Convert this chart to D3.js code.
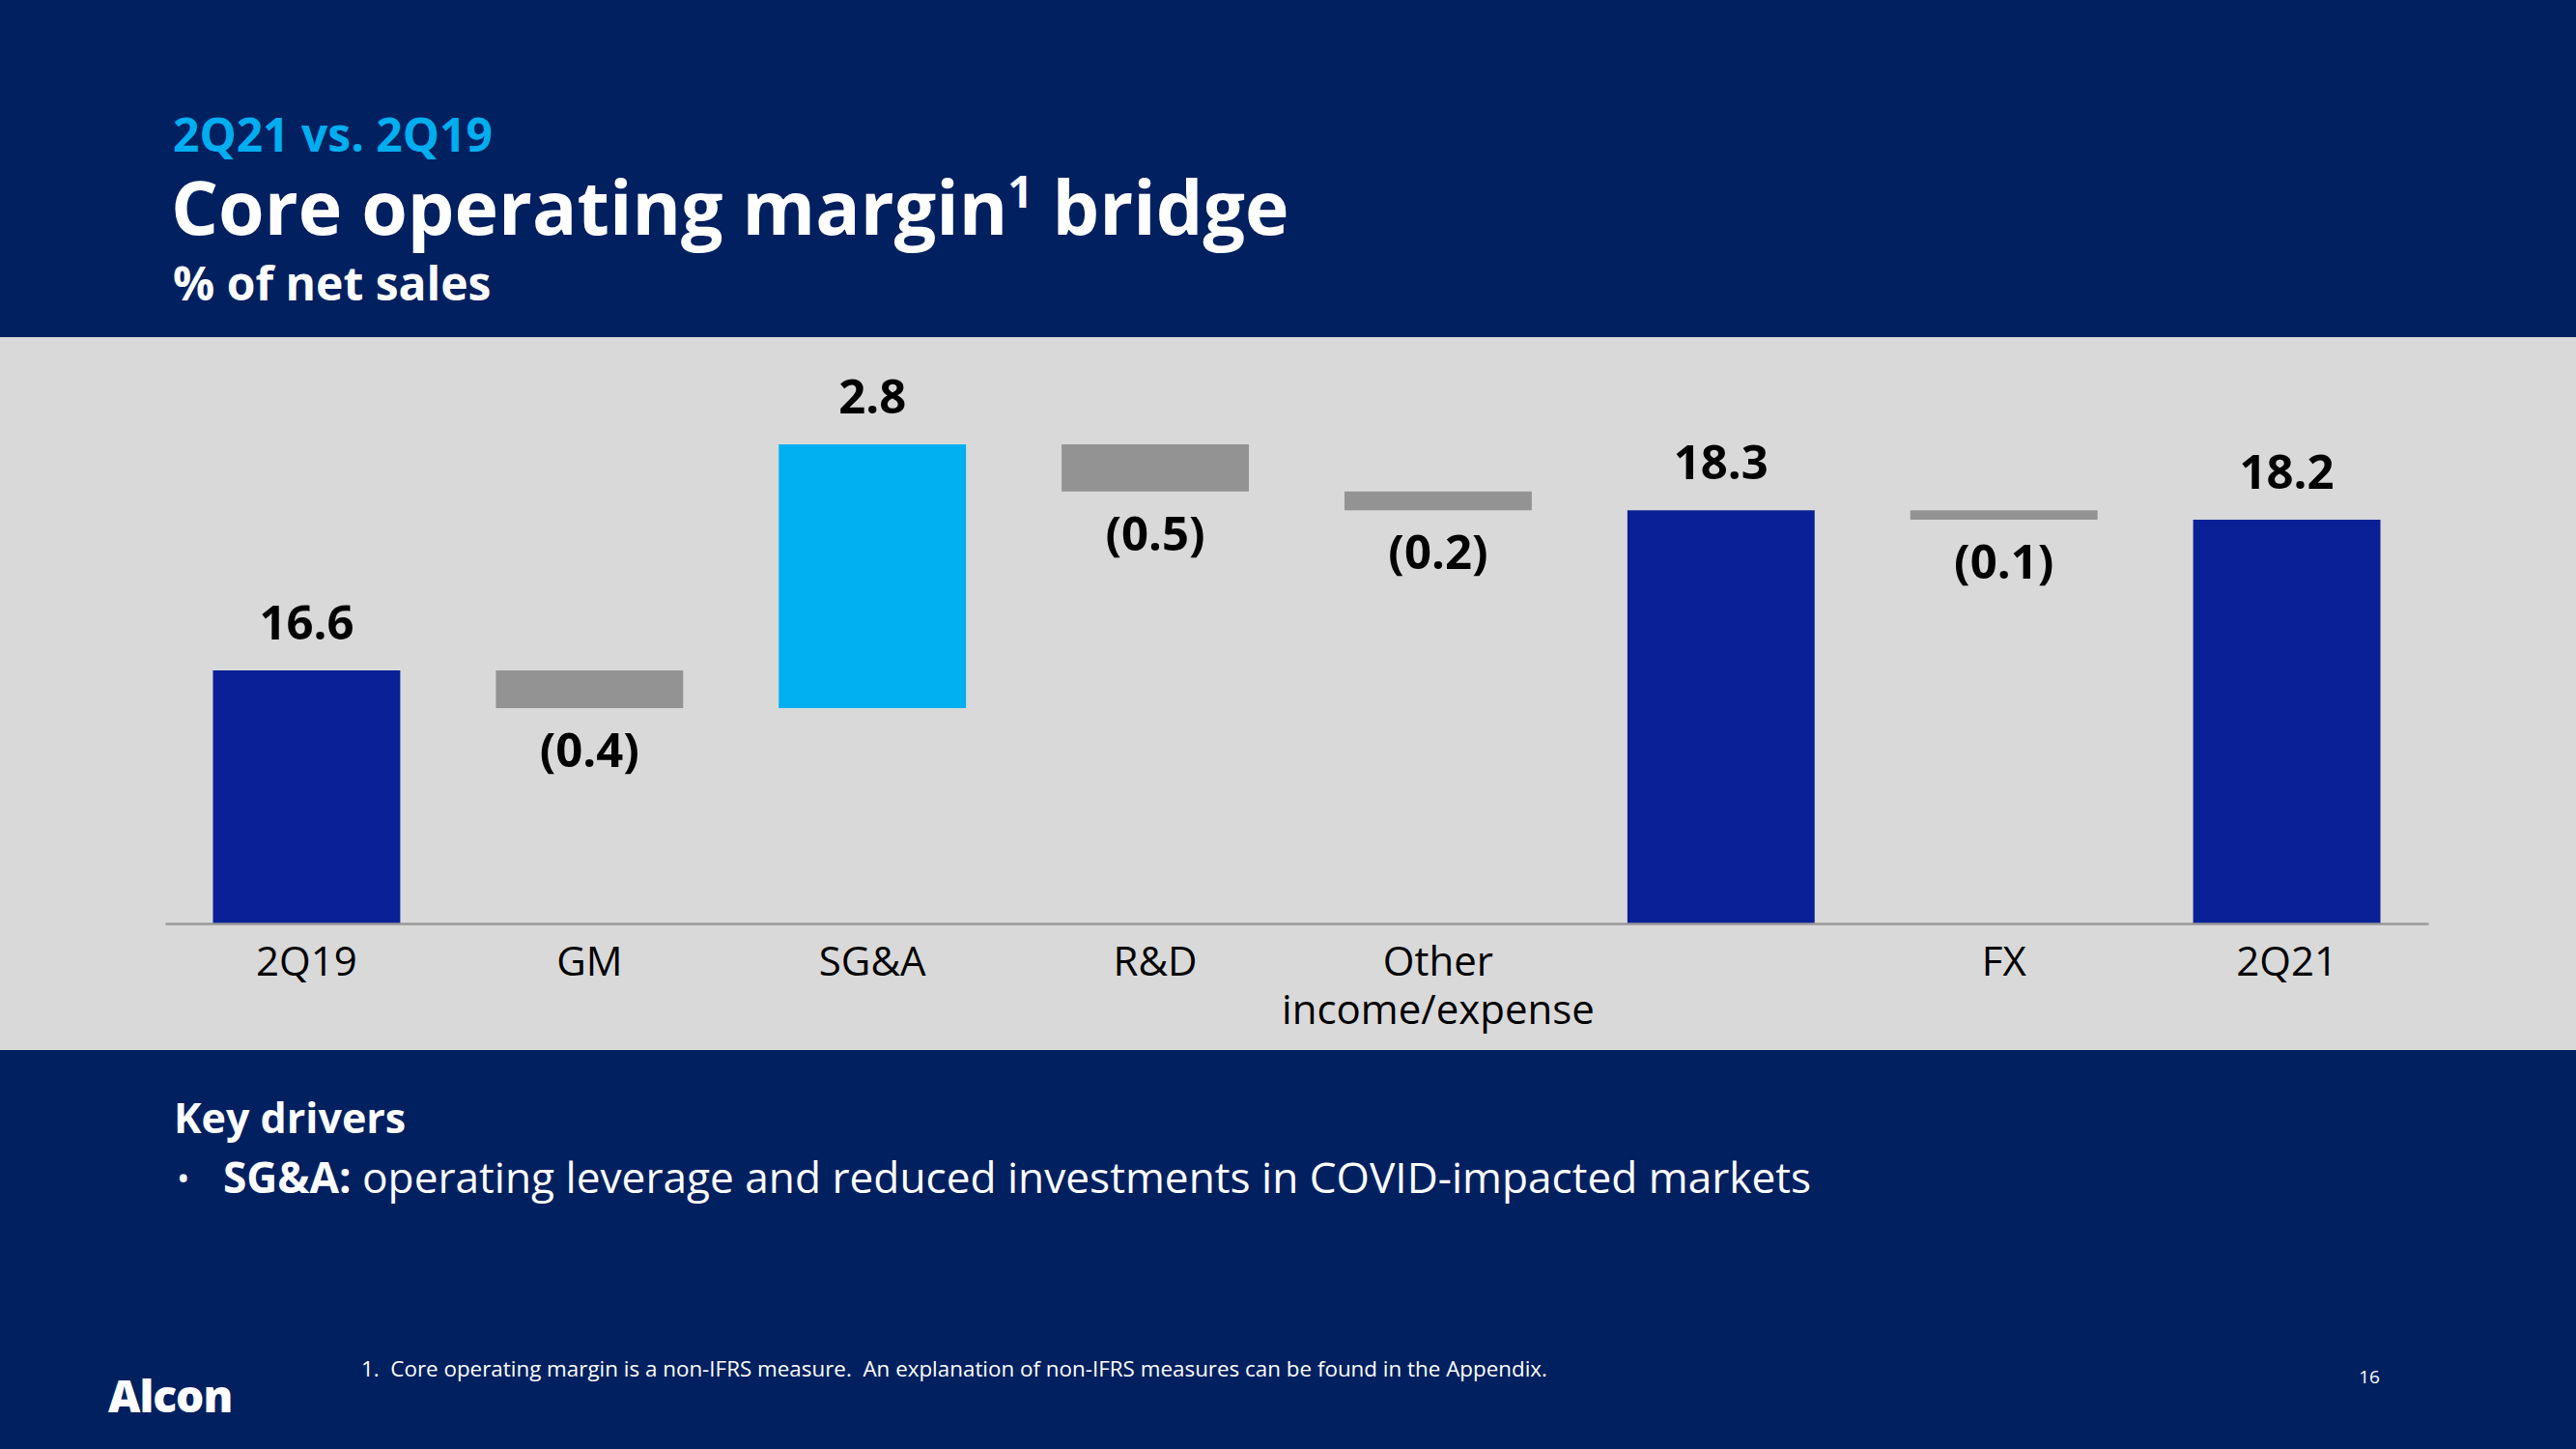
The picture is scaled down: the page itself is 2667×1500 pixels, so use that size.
<!DOCTYPE html>
<html>
<head>
<meta charset="utf-8">
<script src="https://cdn.jsdelivr.net/npm/d3@7"></script>
<style>
  html, body { margin: 0; padding: 0; background: #002060; }
  svg { display: block; }
  text { font-family: "Open Sans", "Noto Sans", sans-serif; }
</style>
</head>
<body>
<svg id="chart" width="2667" height="1500"></svg>
<script>
// ---- data ----
const categories = ["2Q19", "GM", "SG&A", "R&D", "Other\nincome/expense", "", "FX", "2Q21"];
const deltas     = [16.6, -0.4, 2.8, -0.5, -0.2, 18.3, -0.1, 18.2];
const barTypes   = ["total", "delta", "delta", "delta", "delta", "total", "delta", "total"];
const valueLabels = ["16.6", "(0.4)", "2.8", "(0.5)", "(0.2)", "18.3", "(0.1)", "18.2"];
const yDomain = [13.913, 19];

const W = 2667, H = 1500;
const svg = d3.select("#chart");

// backgrounds
svg.append("rect").attr("x", 0).attr("y", 0).attr("width", W).attr("height", H).attr("fill", "#002060");
svg.append("rect").attr("x", 0).attr("y", 349).attr("width", W).attr("height", 738).attr("fill", "#D9D9D9");

// header
svg.append("text").attr("x", 179).attr("y", 157).attr("fill", "#00AEEF")
  .attr("font-size", 48).attr("font-weight", 700).text("2Q21 vs. 2Q19");
const t = svg.append("text").attr("x", 177).attr("y", 243).attr("fill", "#fff")
  .attr("font-size", 77).attr("font-weight", 700);
t.append("tspan").text("Core operating margin");
t.append("tspan").attr("font-size", 46).attr("dy", -28).text("1");
t.append("tspan").attr("dy", 28).text(" bridge");
svg.append("text").attr("x", 179).attr("y", 311).attr("fill", "#fff")
  .attr("font-size", 48).attr("font-weight", 700).text("% of net sales");

// compute waterfall
let running = 0;
const bars = categories.map((c, i) => {
  let lo, hi;
  if (barTypes[i] === "total") {
    lo = yDomain[0]; hi = deltas[i]; running = deltas[i];
  } else {
    const start = running, end = running + deltas[i];
    lo = Math.min(start, end); hi = Math.max(start, end); running = end;
  }
  return { i, c, lo, hi, type: barTypes[i], delta: deltas[i], label: valueLabels[i] };
});

const x = d3.scaleBand().domain(d3.range(categories.length)).range([171, 2514])
  .paddingInner(0.338).paddingOuter(0.169);
const y = d3.scaleLinear().domain(yDomain).range([956, 460]);

const colorFor = d => d.type === "total" ? "#0A2096" : (d.delta > 0 ? "#00B0F0" : "#939393");

const g = svg.append("g");
g.selectAll("rect.bar").data(bars).enter().append("rect")
  .attr("class", "bar")
  .attr("x", d => x(d.i))
  .attr("width", x.bandwidth())
  .attr("y", d => y(d.hi))
  .attr("height", d => y(d.lo) - y(d.hi))
  .attr("fill", colorFor);

// value labels
g.selectAll("text.val").data(bars).enter().append("text")
  .attr("class", "val")
  .attr("x", d => x(d.i) + x.bandwidth() / 2)
  .attr("y", d => (d.type === "total" || d.delta > 0) ? y(d.hi) - 32 : y(d.lo) + 61)
  .attr("text-anchor", "middle")
  .attr("font-size", 49).attr("font-weight", 700).attr("fill", "#000")
  .text(d => d.label);

// axis
const axis = d3.axisBottom(x).tickSize(0).tickPadding(0).tickFormat(() => "");
const ax = svg.append("g").attr("transform", "translate(0,956)").call(axis);
ax.select(".domain").attr("stroke", "#999").attr("stroke-width", 2.5);
ax.selectAll(".tick").each(function(d) {
  const lines = categories[d].split("\n");
  const tx = d3.select(this).select("text")
    .attr("y", 54).attr("dy", 0)
    .attr("font-size", 42).attr("font-weight", 400).attr("fill", "#000")
    .attr("font-family", "'Open Sans', sans-serif")
    .text(null);
  lines.forEach((ln, k) => {
    tx.append("tspan").attr("x", 0).attr("y", 54 + k * 50).text(ln);
  });
});

// key drivers
svg.append("text").attr("x", 180).attr("y", 1173).attr("fill", "#fff")
  .attr("font-size", 43).attr("font-weight", 700).text("Key drivers");
svg.append("text").attr("x", 183).attr("y", 1233).attr("fill", "#fff")
  .attr("font-size", 36).text("•");
const kd = svg.append("text").attr("x", 231).attr("y", 1235).attr("fill", "#fff").attr("font-size", 44.2);
kd.append("tspan").attr("font-weight", 700).text("SG&A:");
kd.append("tspan").attr("font-weight", 400).text(" operating leverage and reduced investments in COVID-impacted markets");

// footnote
svg.append("text").attr("x", 374).attr("y", 1425).attr("fill", "#fff")
  .attr("font-size", 22.4).attr("xml:space", "preserve")
  .text("1.  Core operating margin is a non-IFRS measure.  An explanation of non-IFRS measures can be found in the Appendix.");
svg.append("text").attr("x", 2453).attr("y", 1432).attr("fill", "#fff")
  .attr("text-anchor", "middle").attr("font-size", 19).text("16");

// logo
svg.append("text").attr("x", 112).attr("y", 1462).attr("fill", "#fff")
  .attr("font-size", 46).attr("font-weight", 800).attr("letter-spacing", -1).text("Alcon");
</script>
</body>
</html>
